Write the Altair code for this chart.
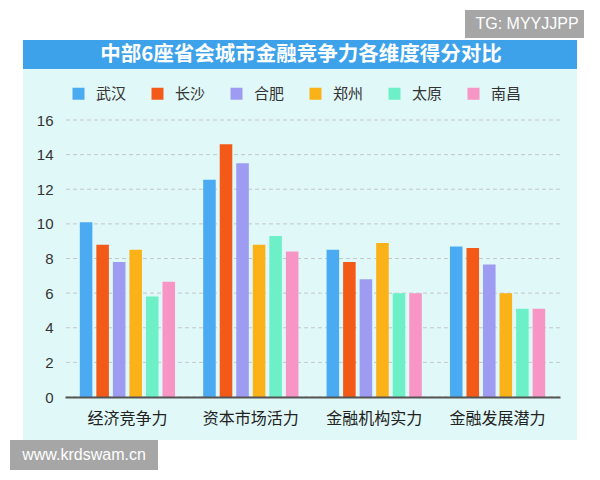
import altair as alt
import pandas as pd

categories = ["经济竞争力", "资本市场活力", "金融机构实力", "金融发展潜力"]
cities = ["武汉", "长沙", "合肥", "郑州", "太原", "南昌"]
wuhan = [10.1, 12.55, 8.5, 8.7]
changsha = [8.8, 14.6, 7.8, 8.6]
hefei = [7.8, 13.5, 6.8, 7.65]
zhengzhou = [8.5, 8.8, 8.9, 6.0]
taiyuan = [5.8, 9.3, 6.0, 5.1]
nanchang = [6.65, 8.4, 6.0, 5.1]
colors = ["#4aabf2", "#f45a17", "#9d9cf2", "#fbb118", "#6df0c8", "#f795c5"]
y_ticks = [0, 2, 4, 6, 8, 10, 12, 14, 16]
title_text = "中部6座省会城市金融竞争力各维度得分对比"
mark_tg = "TG: MYYJJPP"
mark_www = "www.krdswam.cn"

series = [wuhan, changsha, hefei, zhengzhou, taiyuan, nanchang]
rows = []
for city, vals in zip(cities, series):
    for cat, v in zip(categories, vals):
        rows.append({"category": cat, "city": city, "value": v})
df = pd.DataFrame(rows)
grid_df = pd.DataFrame({"value": y_ticks})
one = pd.DataFrame({"k": [0]})

CJK = "Liberation Sans, Noto Sans CJK SC"

yscale = alt.Scale(domain=[0, 16], nice=False)
yaxis = alt.Axis(title=None, values=y_ticks, labelFontSize=15, labelColor="#333",
                 labelPadding=12, ticks=False, domain=False, grid=False,
                 labelFont="Liberation Sans", zindex=1)

panel = alt.Chart(one).mark_rect(fill="#e1f8f8").encode(
    x=alt.value(-42), x2=alt.value(512), y=alt.value(-80), y2=alt.value(320))
titlebar = alt.Chart(one).mark_rect(fill="#3ea2ea").encode(
    x=alt.value(-42), x2=alt.value(512), y=alt.value(-80), y2=alt.value(-51))
title = alt.Chart(one).mark_text(
    text=title_text, color="white", font="Noto Sans CJK SC", fontWeight="bold",
    fontSize=20.5, align="center", baseline="middle").encode(
    x=alt.value(236), y=alt.value(-65))
tgbox = alt.Chart(one).mark_rect(fill="#a6a6a6").encode(
    x=alt.value(400), x2=alt.value(525), y=alt.value(-110), y2=alt.value(-82))
tgtext = alt.Chart(one).mark_text(
    text=mark_tg, color="white", font="Liberation Sans", fontSize=16,
    align="center", baseline="middle").encode(x=alt.value(462), y=alt.value(-96))
wwwbox = alt.Chart(one).mark_rect(fill="#a6a6a6").encode(
    x=alt.value(-55), x2=alt.value(93), y=alt.value(320), y2=alt.value(350))
wwwtext = alt.Chart(one).mark_text(
    text=mark_www, color="white", font="Liberation Sans", fontSize=16,
    align="center", baseline="middle").encode(x=alt.value(19), y=alt.value(335))

grid = alt.Chart(grid_df).mark_rule(color="#c3c8c8", strokeDash=[4, 3], strokeWidth=1).encode(
    y=alt.Y("value:Q", scale=yscale, axis=yaxis))

bars = alt.Chart(df).mark_bar().encode(
    x=alt.X("category:N", sort=categories,
            scale=alt.Scale(paddingInner=0.228, paddingOuter=0.12),
            axis=alt.Axis(title=None, labelAngle=0, labelFontSize=16, labelColor="#222",
                          labelPadding=13, ticks=False, domain=True, domainColor="#555",
                          domainWidth=2, labelFont=CJK, zindex=1)),
    xOffset=alt.XOffset("city:N", sort=cities,
                        scale=alt.Scale(paddingInner=0.24, paddingOuter=0)),
    y=alt.Y("value:Q", scale=yscale, axis=yaxis),
    color=alt.Color("city:N", sort=cities,
                    scale=alt.Scale(domain=cities, range=colors),
                    legend=alt.Legend(title=None, orient="none", legendX=6, legendY=-34,
                                      direction="horizontal", symbolType="square",
                                      symbolSize=144, symbolStrokeWidth=0,
                                      labelFontSize=15, labelColor="#333", labelFont=CJK,
                                      labelOffset=10, columnPadding=23, zindex=1)),
)

chart = alt.layer(panel, titlebar, title, tgbox, tgtext, wwwbox, wwwtext, grid, bars).properties(
    width=495, height=277,
    padding={"left": 57, "top": 112, "right": 24, "bottom": 82},
    autosize=alt.AutoSizeParams(type="none"),
).configure_view(stroke=None).configure(font=CJK)

chart.save("out.html", embed_options={"renderer": "svg", "actions": False})
